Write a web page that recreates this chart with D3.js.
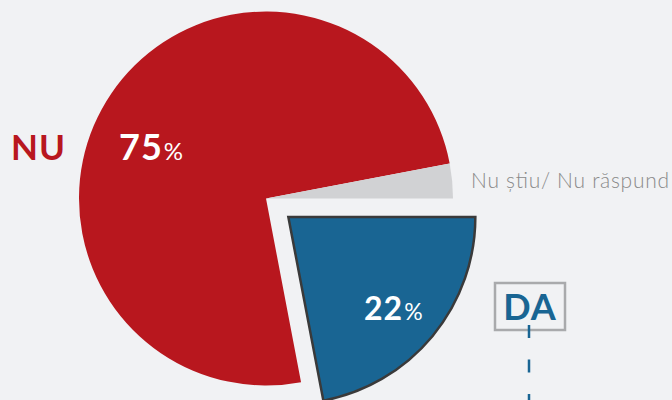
<!DOCTYPE html>
<html>
<head>
<meta charset="utf-8">
<script src="https://cdn.jsdelivr.net/npm/d3@7.9.0/dist/d3.min.js"></script>
<style>
  html, body { margin: 0; padding: 0; background: #f1f2f4; }
  svg { display: block; font-family: 'Lato', 'Open Sans', sans-serif; }
</style>
</head>
<body>
<svg width="672" height="400"></svg>
<script>
// answers, in drawing order starting at 3 o'clock
const labels = ['DA', 'NU', 'Nu știu/ Nu răspund'];
const values = [22, 75, 3];
const colors = ['#196593', '#b8171e', '#d1d2d4'];
const explode = [29, 0, 0];

const svg = d3.select('svg');
const cx = 266, cy = 198.5, r = 187;

const pie = d3.pie()
  .sort(null)
  .value((d) => d)
  .startAngle(Math.PI / 2)
  .endAngle(Math.PI / 2 + 2 * Math.PI);
const arc = d3.arc().innerRadius(0).outerRadius(r);
const arcData = pie(values);

const g = svg.append('g').attr('transform', `translate(${cx},${cy})`);

// red first, then gray, blue on top
[1, 2, 0].forEach((i) => {
  const d = arcData[i];
  const mid = (d.startAngle + d.endAngle) / 2;
  const ox = Math.sin(mid) * explode[i];
  const oy = -Math.cos(mid) * explode[i];
  g.append('path')
    .attr('d', arc(d))
    .attr('transform', `translate(${ox},${oy})`)
    .attr('fill', colors[i])
    .attr('stroke', i === 0 ? '#3a3a3a' : 'none')
    .attr('stroke-width', i === 0 ? 2.5 : 0);
});

// percentage labels
function pctLabel(x, y, v, size, pctSize) {
  const t = svg.append('text')
    .attr('x', x).attr('y', y)
    .attr('fill', '#fff')
    .attr('font-weight', 700)
    .attr('font-size', size)
    .attr('letter-spacing', 1);
  t.append('tspan').text(v);
  t.append('tspan').attr('font-size', pctSize).attr('font-weight', 400).attr('dx', 1).text('%');
}
pctLabel(119, 160, values[1], 36, 24);
pctLabel(364, 320, values[0], 32, 23);

// NU
svg.append('text')
  .attr('x', 11).attr('y', 160)
  .attr('fill', colors[1])
  .attr('font-weight', 700)
  .attr('font-size', 35)
  .attr('letter-spacing', 1)
  .text(labels[1]);

// Nu stiu
svg.append('text')
  .attr('x', 471).attr('y', 188)
  .attr('fill', '#8a8a8a')
  .attr('font-weight', 300)
  .attr('font-size', 21)
  .attr('textLength', 198)
  .attr('lengthAdjust', 'spacing')
  .text(labels[2]);

// DA box
svg.append('rect')
  .attr('x', 495).attr('y', 283)
  .attr('width', 70).attr('height', 47)
  .attr('fill', 'none')
  .attr('stroke', '#a9aaac')
  .attr('stroke-width', 2.5);
svg.append('text')
  .attr('x', 530).attr('y', 320)
  .attr('text-anchor', 'middle')
  .attr('fill', colors[0])
  .attr('font-weight', 700)
  .attr('font-size', 36)
  .attr('letter-spacing', 1)
  .text(labels[0]);
svg.append('line')
  .attr('x1', 529).attr('x2', 529)
  .attr('y1', 325).attr('y2', 400)
  .attr('stroke', colors[0])
  .attr('stroke-width', 2.5)
  .attr('stroke-dasharray', '13,21.5');
</script>
</body>
</html>
